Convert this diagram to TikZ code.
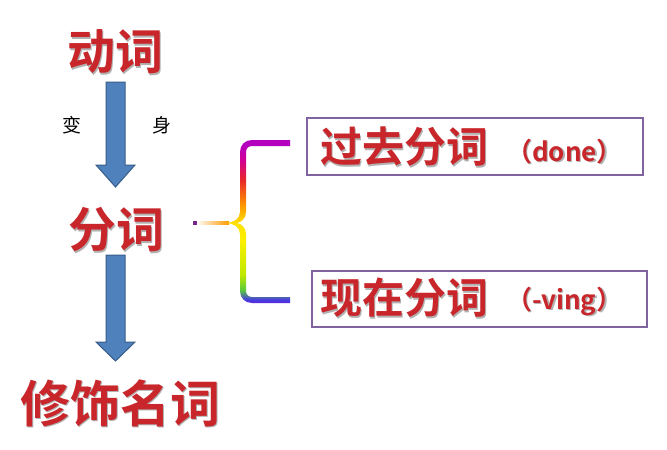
\documentclass[tikz,border=0pt]{standalone}
\usepackage{fontspec}
\newfontfamily\cjk{Noto Sans CJK SC}
\newfontfamily\cjkb{Noto Sans CJK SC Bold}
\usetikzlibrary{calc}
\definecolor{myred}{RGB}{200,38,42}
\definecolor{arrowblue}{RGB}{79,129,189}
\definecolor{arrowedge}{RGB}{56,93,138}
\definecolor{boxedge}{RGB}{128,100,162}
\definecolor{stubpurple}{RGB}{120,40,140}
\pgfdeclareverticalshading{rainbowbrace}{100bp}{%
  color(0bp)=(rgb,255:red,90;green,40;blue,220);
  color(25bp)=(rgb,255:red,90;green,40;blue,220);
  color(26bp)=(rgb,255:red,70;green,60;blue,225);
  color(29bp)=(rgb,255:red,90;green,200;blue,60);
  color(33.6bp)=(rgb,255:red,190;green,232;blue,0);
  color(44bp)=(rgb,255:red,250;green,240;blue,0);
  color(49.5bp)=(rgb,255:red,255;green,225;blue,0);
  color(55bp)=(rgb,255:red,255;green,150;blue,0);
  color(62.7bp)=(rgb,255:red,232;green,40;blue,40);
  color(68.9bp)=(rgb,255:red,210;green,0;blue,150);
  color(73.5bp)=(rgb,255:red,180;green,0;blue,190);
  color(100bp)=(rgb,255:red,180;green,0;blue,190)}
\tikzset{
  redtxt/.style={text=myred, inner sep=0pt},
  shadowtxt/.style={text=black!30, inner sep=0pt},
  blockarrow/.style={fill=arrowblue, draw=arrowedge, line width=1pt, line join=miter},
  framebox/.style={draw=boxedge, line width=1.4pt, inner sep=0pt},
  smalltxt/.style={inner sep=0pt, font=\cjk\fontsize{19}{19}\selectfont},
}
% name, position, size, text, anchor
\newcommand\shadowed[5]{%
  \node[shadowtxt, anchor=#5, font=\cjkb\fontsize{#3}{#3}\selectfont] at ($(#2)+(1.6,1.6)$) {#4};
  \node[redtxt, anchor=#5, font=\cjkb\fontsize{#3}{#3}\selectfont] (#1) at (#2) {#4};
}
\begin{document}
\begin{tikzpicture}[x=1pt,y=-1pt]
\useasboundingbox[fill=white] (0,0) rectangle (667,450);

% main words
\shadowed{dongci}{115,52}{48}{动词}{center}
\shadowed{fenci}{116,230}{48}{分词}{center}
\shadowed{xiushi}{120,403}{50}{修饰名词}{center}

\node[smalltxt] (bian) at (72,125) {变};
\node[smalltxt] (shen) at (162,125) {身};

% block arrows
\draw[blockarrow] (106,82) -- (125,82) -- (125,165) -- (135,165) -- (115.5,187) -- (96,165) -- (106,165) -- cycle;
\draw[blockarrow] (106,255) -- (125,255) -- (125,342) -- (135,342) -- (115.5,361) -- (96,342) -- (106,342) -- cycle;

% brace stub
\shade[left color=white, right color=orange!80!yellow] (196,221.6) rectangle (229,224.4);
\fill[stubpurple] (193,220.8) rectangle (196.5,225.2);

% rainbow brace
\shade[shading=rainbowbrace]
  (290,140) -- (252,140) .. controls (245,140) and (240,145) .. (240,152) -- (240,212)
  .. controls (240,219) and (234,222.5) .. (226,223)
  .. controls (234,223.5) and (240,227) .. (240,234)
  -- (240,291) .. controls (240,298) and (245,303) .. (252,303) -- (290,303)
  -- (290,297) -- (252,297) .. controls (248.5,297) and (246,294.5) .. (246,291) -- (246,234)
  .. controls (246,228) and (242,224) .. (237,223)
  .. controls (242,222) and (246,218) .. (246,212)
  -- (246,152) .. controls (246,148.5) and (248.5,146) .. (252,146) -- (290,146) -- cycle;

% boxes
\node[framebox, minimum width=336pt, minimum height=57pt] (box1) at (475,146.5) {};
\node[framebox, minimum width=335pt, minimum height=56pt] (box2) at (479.5,299) {};

\shadowed{guoqu}{404,147}{42}{过去分词}{center}
\shadowed{done}{506,161}{26}{（done）}{base west}
\shadowed{xianzai}{404,298}{42}{现在分词}{center}
\shadowed{ving}{506,309}{26}{（-ving）}{base west}
\end{tikzpicture}
\end{document}
